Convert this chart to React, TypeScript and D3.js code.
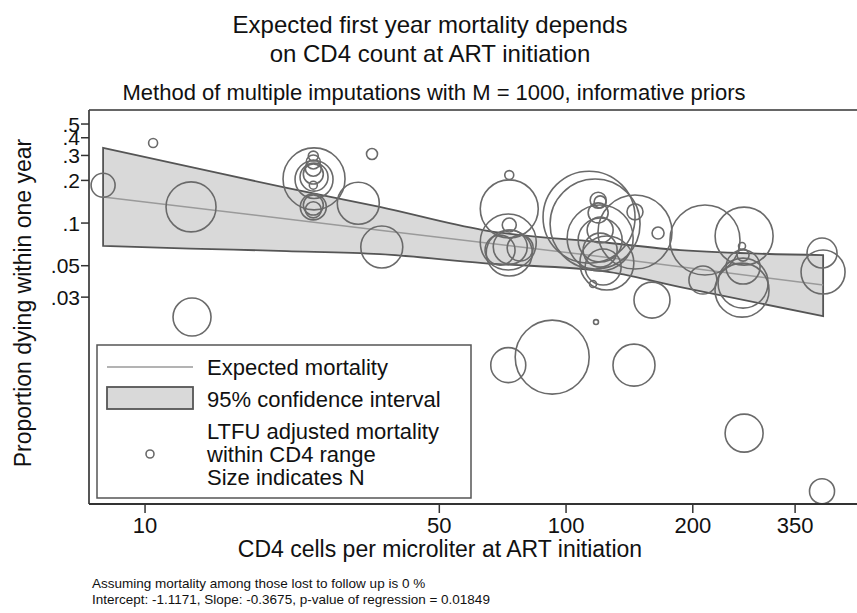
import React from 'react';
import * as d3 from 'd3';

// ---- data ----
const xTicks = [10, 50, 100, 200, 350];
const yTicks = [0.5, 0.4, 0.3, 0.2, 0.1, 0.05, 0.03];
const yTickLabels = ['.5', '.4', '.3', '.2', '.1', '.05', '.03'];

// 95% confidence band (CD4 grid, lower, upper)
const bandCD4 = [7.95, 12.8, 21.7, 36.1, 63.5, 127, 187, 408];
const bandUpper = [0.339, 0.249, 0.177, 0.13, 0.0893, 0.0723, 0.0644, 0.0594];
const bandLower = [0.0689, 0.0661, 0.0634, 0.0604, 0.0522, 0.0451, 0.0353, 0.022];

// expected mortality line
const fitCD4 = [7.95, 36.1, 127, 408];
const fitMort = [0.153, 0.089, 0.057, 0.0365];

// studies: CD4, LTFU adjusted mortality, N
const studyCD4 = [
  7.95, 10.45, 12.86, 12.93, 25.2, 25.2, 25.2, 25.1, 25.1, 25.1, 25.1, 25.1, 25.1, 25.1, 25.1,
  34.6, 32.1, 36.5, 73.3, 73.3, 73.3, 72.9, 73.3, 73.7, 77.8, 69.7, 72.9, 92.7, 117.8, 145,
  264.8, 405.5, 160, 113.4, 117.2, 145.8, 120.5, 119.2, 120.5, 119.2, 145.8, 165.4, 120.5, 120.5,
  122.5, 125, 115.9, 120.5, 213.8, 211.4, 264.8, 261.8, 263.3, 263.3, 261.8, 263.3, 405.5, 407.8,
];
const studyMort = [
  0.185, 0.367, 0.13, 0.0217, 0.205, 0.203, 0.211, 0.297, 0.27, 0.244, 0.222, 0.185, 0.13, 0.134, 0.124,
  0.307, 0.138, 0.0677, 0.218, 0.126, 0.0968, 0.0735, 0.0614, 0.0677, 0.0666, 0.0644, 0.00993, 0.01132, 0.02, 0.00993,
  0.00329, 0.00128, 0.0286, 0.11, 0.0984, 0.0864, 0.0784, 0.145, 0.141, 0.118, 0.12, 0.085, 0.0759, 0.0644,
  0.0489, 0.0522, 0.0371, 0.0893, 0.0759, 0.0396, 0.0809, 0.0689, 0.0594, 0.0489, 0.0336, 0.0377, 0.0614, 0.0451,
];
const studyN = [
  400, 56, 1734, 1002, 2667, 1002, 544, 69, 136, 178, 278, 44, 469, 278, 178,
  84, 1224, 1224, 56, 2334, 136, 2176, 1468, 802, 469, 624, 850, 3799, 17, 1224,
  1002, 434, 899, 5872, 5619, 3799, 3022, 178, 100, 278, 178, 100, 1343, 802,
  899, 2023, 34, 469, 3399, 544, 2334, 34, 100, 802, 2023, 1734, 624, 1343,
];
const legendN = 44;

const legendLabels = ['Expected mortality', '95% confidence interval'];
const legendMarkerLines = ['LTFU adjusted mortality', 'within CD4 range', 'Size indicates N'];

const FONT = '"Liberation Sans", Arial, Helvetica, sans-serif';

export default function App() {
  const W = 857, H = 613;
  const left = 89, right = 857, top = 110, bottom = 504;

  const x = d3.scaleLog().domain([7.36, 491]).range([left, right]);
  const y = d3.scaleLog().domain([0.00104, 0.628]).range([bottom, top]);
  const r = d3.scaleSqrt().domain([0, 6000]).range([0, 46.5]);

  const upperPath = d3.line().curve(d3.curveMonotoneX)(bandCD4.map((c, i) => [x(c), y(bandUpper[i])]))!;
  const lowerRev = d3.line().curve(d3.curveMonotoneX)(
    bandCD4.map((c, i) => [x(c), y(bandLower[i])] as [number, number]).reverse()
  )!;
  const bandD = upperPath + 'L' + lowerRev.slice(1) + 'Z';

  const fitD = d3.line()(fitCD4.map((c, i) => [x(c), y(fitMort[i])]))!;

  const circleStroke = '#6a6a6a';

  return (
    <svg width={W} height={H} style={{ position: 'absolute', left: 0, top: 0, background: '#fff' }} fontFamily={FONT}>
      <rect x={0} y={0} width={W} height={H} fill="#fff" />
      {/* titles */}
      <text x={430} y={33} textAnchor="middle" fontSize={24} fill="#111">Expected first year mortality depends</text>
      <text x={430} y={62} textAnchor="middle" fontSize={24} fill="#111">on CD4 count at ART initiation</text>
      <text x={434} y={100} textAnchor="middle" fontSize={22} fill="#111">Method of multiple imputations with M = 1000, informative priors</text>

      <defs>
        <clipPath id="plotclip">
          <rect x={left} y={top} width={right - left} height={bottom - top} />
        </clipPath>
      </defs>

      {/* band, fit and studies */}
      <g clipPath="url(#plotclip)">
        <path d={bandD} fill="#d9d9d9" stroke="#555" strokeWidth={1.8} strokeLinejoin="miter" />
        <path d={fitD} fill="none" stroke="#9a9a9a" strokeWidth={1.5} />
        {studyCD4.map((c, i) => (
          <circle key={i} cx={x(c)} cy={y(studyMort[i])} r={r(studyN[i])} fill="none" stroke={circleStroke} strokeWidth={1.6} />
        ))}
      </g>

      {/* plot border */}
      <line x1={left} x2={right} y1={top} y2={top} stroke="#666" strokeWidth={1.8} />
      <line x1={left} x2={left} y1={top} y2={bottom} stroke="#444" strokeWidth={1.8} />
      <line x1={left} x2={right} y1={bottom} y2={bottom} stroke="#333" strokeWidth={1.8} />

      {/* y ticks */}
      {yTicks.map((t, i) => (
        <g key={t}>
          <line x1={left - 8} x2={left} y1={y(t)} y2={y(t)} stroke="#333" strokeWidth={1.5} />
          <text x={left - 9} y={y(t)} dy="0.36em" textAnchor="end" fontSize={21} fill="#111">{yTickLabels[i]}</text>
        </g>
      ))}
      {/* x ticks */}
      {xTicks.map((t) => (
        <g key={t}>
          <line x1={x(t)} x2={x(t)} y1={bottom} y2={bottom + 9} stroke="#333" strokeWidth={1.5} />
          <text x={x(t)} y={533} textAnchor="middle" fontSize={22} fill="#111">{t}</text>
        </g>
      ))}

      <text x={440} y={557} textAnchor="middle" fontSize={23} fill="#111">CD4 cells per microliter at ART initiation</text>
      <text transform="translate(31,303) rotate(-90)" textAnchor="middle" fontSize={23} fill="#111">Proportion dying within one year</text>

      {/* legend */}
      <rect x={97} y={345} width={374} height={153} fill="#fff" stroke="#555" strokeWidth={1.5} />
      <line x1={107} x2={193} y1={367} y2={367} stroke="#9a9a9a" strokeWidth={1.5} />
      <rect x={107} y={387} width={86} height={22} fill="#d9d9d9" stroke="#555" strokeWidth={1.8} />
      <circle cx={150} cy={454} r={r(legendN)} fill="none" stroke={circleStroke} strokeWidth={1.6} />
      <text x={207} y={375} fontSize={22} fill="#111">{legendLabels[0]}</text>
      <text x={207} y={407} fontSize={22} fill="#111">{legendLabels[1]}</text>
      {legendMarkerLines.map((s, i) => (
        <text key={s} x={207} y={439 + i * 23} fontSize={22} fill="#111">{s}</text>
      ))}

      {/* notes */}
      <text x={92} y={588} fontSize={13.5} fill="#111">Assuming mortality among those lost to follow up is 0 %</text>
      <text x={92} y={604} fontSize={13.5} fill="#111">Intercept: -1.1171, Slope: -0.3675, p-value of regression = 0.01849</text>
    </svg>
  );
}
